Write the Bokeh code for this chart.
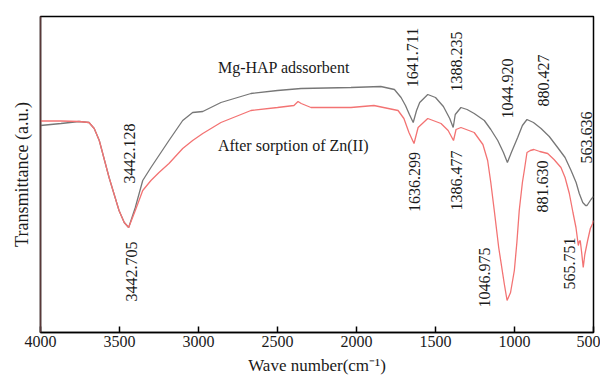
import math
from bokeh.plotting import figure
from bokeh.models import Range1d, FixedTicker, ColumnDataSource
from bokeh.core.properties import value
from bokeh.embed import file_html
from bokeh.resources import INLINE

# ---- data (wave number, transmittance a.u.) ----
wn_mg = [4000, 3870, 3756, 3693, 3660, 3628, 3566, 3503, 3470, 3442, 3400, 3353, 3301,
         3187, 3100, 3037, 2973, 2858, 2668, 2500, 2351, 2035, 1846, 1760, 1718, 1690,
         1665, 1641, 1620, 1600, 1549, 1500, 1450, 1410, 1388, 1375, 1339, 1300, 1255,
         1191, 1150, 1106, 1070, 1045, 1020, 980, 950, 921, 880, 832, 780, 727, 680,
         642, 610, 590, 568, 550, 541, 516, 500]
t_mg = [207, 209, 211, 210, 204, 192, 155, 122, 110, 105, 125, 152, 165,
        192, 212, 220, 221, 230, 239, 242, 244, 245, 246, 243, 235, 227,
        218, 210, 222, 230, 238, 235, 226, 214, 205, 218, 225, 223, 219,
        212, 203, 192, 180, 170, 180, 195, 207, 213, 210, 204, 196, 185, 175,
        162, 150, 139, 130, 127, 127, 133, 136]

wn_zn = [4000, 3870, 3756, 3693, 3660, 3628, 3566, 3503, 3470, 3442, 3400, 3353, 3301,
         3250, 3187, 3100, 3037, 2973, 2858, 2668, 2500, 2396, 2370, 2350, 2288, 2035,
         1890, 1737, 1700, 1668, 1636, 1610, 1549, 1465, 1420, 1386, 1370, 1339, 1255,
         1200, 1170, 1150, 1128, 1100, 1065, 1047, 1025, 1001, 985, 970, 950, 938, 921,
         900, 877, 840, 790, 750, 706, 680, 653, 630, 611, 596, 590, 584, 575, 565, 555,
         537, 520, 505, 500]
t_zn = [211.5, 211.5, 211, 210, 204, 192, 155, 122, 110, 105, 122, 142, 152,
        160, 169, 184, 192, 199, 210, 222, 225, 227, 231, 229, 225, 225,
        227, 222, 214, 200, 189, 205, 214, 209, 202, 192, 203, 205, 200,
        188, 172, 150, 122, 85, 49, 32, 40, 62, 90, 122, 150, 162, 180,
        182, 183, 181, 179, 173, 165, 155, 139, 120, 105, 87, 91, 92, 80, 65, 78,
        92, 104, 109, 112]

x_ticks = [4000, 3500, 3000, 2500, 2000, 1500, 1000, 500]

series_names = ["Mg-HAP adssorbent", "After sorption of Zn(II)"]
peak_labels = ["3442.128", "3442.705", "1641.711", "1388.235", "1044.920", "880.427",
               "563.636", "1636.299", "1386.477", "881.630", "1046.975", "565.751"]

# ---- annotation placement ----
peak_x = [3438, 3427, 1644, 1370, 1043, 815, 547, 1630, 1370, 822, 1187, 653]
peak_y = [179, 61, 275, 271, 244, 252, 195, 150.5, 152, 146, 55, 69]
name_x = [2877, 2877]
name_y = [265, 187]

FONT = "Liberation Serif"

p = figure(width=600, height=380, output_backend="svg", toolbar_location=None,
           x_range=Range1d(4000, 500), y_range=Range1d(0, 316),
           min_border_left=40, min_border_right=7, min_border_top=16, min_border_bottom=48)
p.grid.visible = False
p.outline_line_color = "black"
p.outline_line_width = 1.5

p.line(wn_mg, t_mg, line_color="#777777", line_width=1.3)
p.line(wn_zn, t_zn, line_color="#f37373", line_width=1.3)

src_peaks = ColumnDataSource(dict(x=peak_x, y=peak_y, text=peak_labels))
p.text(x="x", y="y", text="text", source=src_peaks, angle=math.pi / 2,
       text_align="center", text_baseline="middle", text_font=value(FONT),
       text_font_size="16px", text_color="#1a1a1a")

src_names = ColumnDataSource(dict(x=name_x, y=name_y, text=series_names))
p.text(x="x", y="y", text="text", source=src_names,
       text_align="left", text_baseline="middle", text_font=value(FONT),
       text_font_size="16px", text_color="#1a1a1a")

xa = p.xaxis[0]
xa.ticker = FixedTicker(ticks=x_ticks)
xa.major_tick_in = 6
xa.major_tick_out = 0
xa.minor_tick_line_color = None
xa.major_label_standoff = 3
xa.major_label_text_font = FONT
xa.major_label_text_font_size = "16px"
xa.major_label_text_color = "#1a1a1a"
xa.axis_line_width = 1.5
xa.major_tick_line_width = 1.5
xa.axis_label = "Wave number(cm⁻¹)"
xa.axis_label_text_font = FONT
xa.axis_label_text_font_style = "normal"
xa.axis_label_text_font_size = "17px"
xa.axis_label_text_color = "#1a1a1a"
xa.axis_label_standoff = 6

ya = p.yaxis[0]
ya.ticker = FixedTicker(ticks=[])
ya.major_tick_line_color = None
ya.minor_tick_line_color = None
ya.axis_line_color = "#5a3838"
ya.axis_line_width = 1.5
ya.axis_label = "Transmittance (a.u.)"
ya.axis_label_text_font = FONT
ya.axis_label_text_font_style = "normal"
ya.axis_label_text_font_size = "18px"
ya.axis_label_text_color = "#1a1a1a"
ya.axis_label_standoff = 9

open("out.html", "w").write(file_html(p, INLINE))
